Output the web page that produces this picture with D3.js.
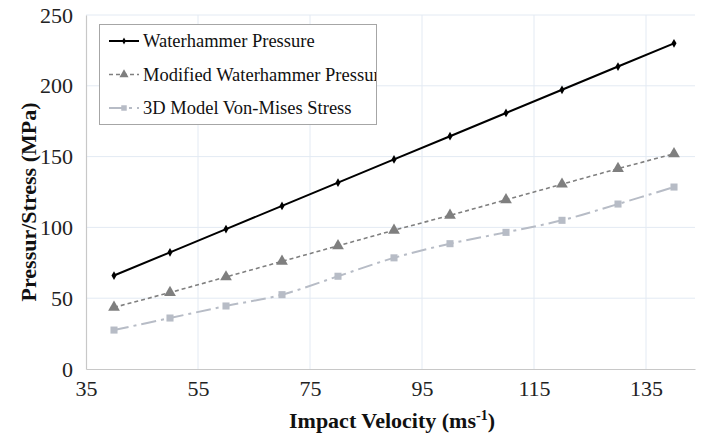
<!DOCTYPE html>
<html>
<head>
<meta charset="utf-8">
<script src="https://cdn.jsdelivr.net/npm/d3@7"></script>
<style>
body { margin: 0; background: #fff; }
text { font-family: "Liberation Serif", "Times New Roman", serif; }
</style>
</head>
<body>
<svg width="702" height="434"></svg>
<script>
var width = 702;
var height = 434;

// data
var velocity = [40, 50, 60, 70, 80, 90, 100, 110, 120, 130, 140];
var waterhammer = [66, 82.4, 98.8, 115.2, 131.6, 148, 164.4, 180.8, 197.2, 213.6, 230];
var modified = [43.5, 54, 65, 76, 87, 98, 108.5, 119.5, 130.5, 141.5, 152];
var vonMises = [27.5, 36, 44.5, 52.5, 65.5, 78.5, 88.5, 96.5, 105, 116.5, 128.5];
var xTicks = [35, 55, 75, 95, 115, 135];
var yTicks = [0, 50, 100, 150, 200, 250];
var seriesNames = ["Waterhammer Pressure", "Modified Waterhammer Pressure", "3D Model Von-Mises Stress"];

var margin = {left: 86, right: 7, top: 15, bottom: 65};

var svg = d3.select("svg");

var x = d3.scaleLinear()
	.domain([35, 143.75])
	.range([margin.left, width - margin.right]);

var y = d3.scaleLinear()
	.domain([0, 250])
	.range([height - margin.bottom, margin.top]);

// gridlines
svg.append("g")
	.selectAll("line")
	.data(yTicks.slice(1))
	.enter()
	.append("line")
	.attr("x1", x.range()[0])
	.attr("x2", x.range()[1])
	.attr("y1", function(d) { return y(d); })
	.attr("y2", function(d) { return y(d); })
	.style("stroke", "#e3eaf3")
	.style("stroke-width", 1);

svg.append("g")
	.selectAll("line")
	.data(xTicks.slice(1))
	.enter()
	.append("line")
	.attr("x1", function(d) { return x(d); })
	.attr("x2", function(d) { return x(d); })
	.attr("y1", y.range()[0])
	.attr("y2", y.range()[1])
	.style("stroke", "#e3eaf3")
	.style("stroke-width", 1);

// axes
var xAxis = svg.append("g")
	.attr("transform", "translate(0," + y(0) + ")")
	.call(d3.axisBottom(x).tickValues(xTicks).tickSize(0).tickPadding(11));

var yAxis = svg.append("g")
	.attr("transform", "translate(" + x(35) + ",0)")
	.call(d3.axisLeft(y).tickValues(yTicks).tickSize(0).tickPadding(13));

[xAxis, yAxis].forEach(function(a) {
	a.attr("font-family", null);
	a.select(".domain").style("stroke", "#c8c8c8").style("stroke-width", 1.2);
	a.selectAll("text")
		.style("font-family", "'Liberation Serif', serif")
		.style("font-size", "22px")
		.style("fill", "#222");
});

// axis titles
var xTitle = svg.append("text")
	.attr("x", 392)
	.attr("y", 428)
	.attr("text-anchor", "middle")
	.style("font-size", "22px")
	.style("font-weight", "bold")
	.style("fill", "#111");
xTitle.append("tspan").text("Impact Velocity (ms");
xTitle.append("tspan").attr("dy", -8).style("font-size", "14px").text("-1");
xTitle.append("tspan").attr("dy", 8).text(")");

svg.append("text")
	.attr("transform", "translate(36," + 202 + ") rotate(-90)")
	.attr("text-anchor", "middle")
	.style("font-size", "22px")
	.style("font-weight", "bold")
	.style("fill", "#111")
	.text("Pressur/Stress (MPa)");

// series
var series = [
	{name: seriesNames[0], values: waterhammer, color: "#000000", width: 2, dash: null, marker: d3.symbolDiamond, size: 22, curve: d3.curveLinear},
	{name: seriesNames[1], values: modified, color: "#7f7f7f", width: 1.6, dash: "4,3", marker: d3.symbolTriangle, size: 60, curve: d3.curveLinear},
	{name: seriesNames[2], values: vonMises, color: "#b7bcc6", width: 2, dash: "15,5,3,5", marker: d3.symbolSquare, size: 50, curve: d3.curveCatmullRom}
];

series.forEach(function(s) {
	var pts = velocity.map(function(v, i) { return [v, s.values[i]]; });
	var line = d3.line()
		.x(function(d) { return x(d[0]); })
		.y(function(d) { return y(d[1]); })
		.curve(s.curve);

	svg.append("path")
		.datum(pts)
		.attr("d", line)
		.style("fill", "none")
		.style("stroke", s.color)
		.style("stroke-width", s.width)
		.style("stroke-dasharray", s.dash);

	svg.append("g")
		.selectAll("path")
		.data(pts)
		.enter()
		.append("path")
		.attr("d", d3.symbol().type(s.marker).size(s.size))
		.attr("transform", function(d) { return "translate(" + x(d[0]) + "," + y(d[1]) + ")"; })
		.style("fill", s.color);
});

// legend (text is clipped by the box, as in the original)
svg.append("clipPath")
	.attr("id", "legend-clip")
	.append("rect")
	.attr("x", 99)
	.attr("y", 24)
	.attr("width", 277)
	.attr("height", 101);

var legend = svg.append("g");
legend.append("rect")
	.attr("x", 99.5)
	.attr("y", 24.5)
	.attr("width", 277)
	.attr("height", 100)
	.style("fill", "#fff")
	.style("stroke", "#a6a6a6")
	.style("stroke-width", 1);

var item = legend.append("g")
	.attr("clip-path", "url(#legend-clip)")
	.selectAll(".item")
	.data(series)
	.enter()
	.append("g")
	.attr("class", "item")
	.attr("transform", function(d, i) { return "translate(0," + (41 + i * 33.5) + ")"; });

item.append("line")
	.attr("x1", 109)
	.attr("x2", 139)
	.style("stroke", function(d) { return d.color; })
	.style("stroke-width", function(d) { return d.width; })
	.style("stroke-dasharray", function(d) { return d.dash; });

item.append("path")
	.attr("d", function(d) { return d3.symbol().type(d.marker).size(d.size * 0.6)(); })
	.attr("transform", "translate(124,0)")
	.style("fill", function(d) { return d.color; });

item.append("text")
	.attr("x", 143)
	.attr("dy", "0.35em")
	.style("font-size", "18.5px")
	.style("fill", "#111")
	.text(function(d) { return d.name; });
</script>
</body>
</html>
